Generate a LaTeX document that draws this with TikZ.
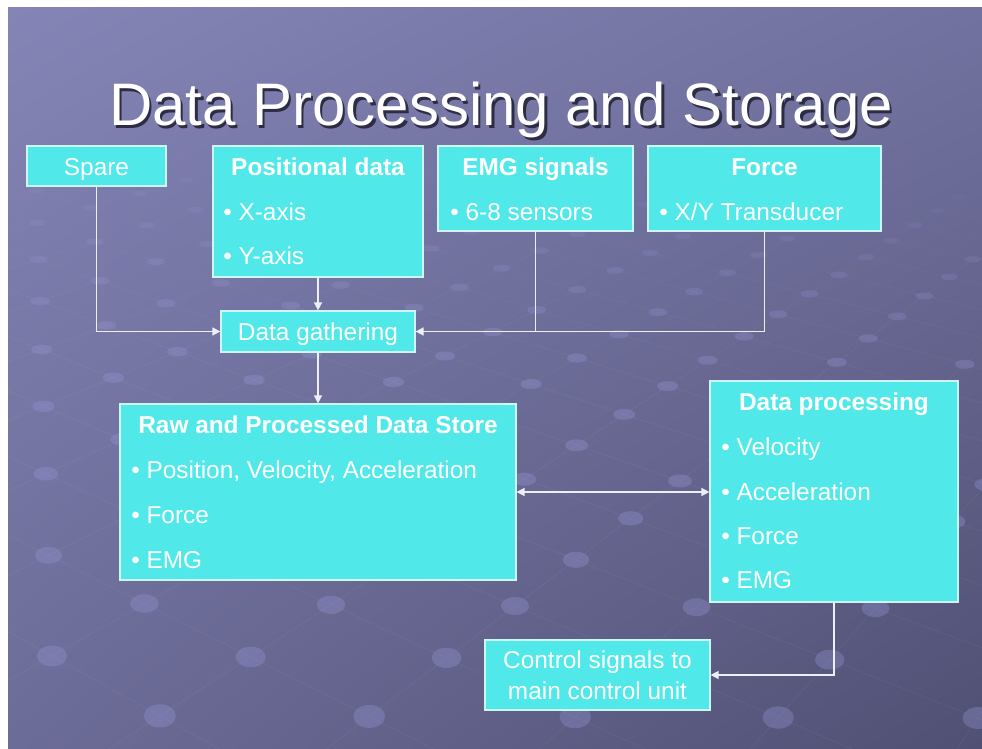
\documentclass[tikz,border=0pt]{standalone}
\usepackage{fontspec}
\setmainfont{Liberation Sans}
\usetikzlibrary{arrows.meta,shadings}

\definecolor{boxfill}{RGB}{80,232,232}
\definecolor{boxline}{RGB}{205,247,247}
\definecolor{wire}{RGB}{238,238,246}
\definecolor{bgUL}{RGB}{132,132,182}
\definecolor{bgUR}{RGB}{114,114,160}
\definecolor{bgLL}{RGB}{108,108,152}
\definecolor{bgLR}{RGB}{80,80,116}
\definecolor{stud}{RGB}{150,150,214}
\definecolor{titleshade}{RGB}{44,44,68}

\newcommand{\boxfont}{\fontsize{18.3}{22}\selectfont}
% title text with its drop shadow set underneath
\newcommand{\shadowtitle}[1]{%
  \makebox[0pt][l]{\hspace{1.9pt}\raisebox{-1.9pt}{\color{titleshade}#1}}#1}

\tikzset{
  box/.style={draw=boxline, line width=0.9pt, fill=boxfill, inner sep=0pt},
  head/.style={text=white, font=\boxfont\bfseries, anchor=base, inner sep=0pt},
  plain/.style={text=white, font=\boxfont, anchor=base, inner sep=0pt},
  item/.style={text=white, font=\boxfont, anchor=base west, inner sep=0pt},
  wireline/.style={draw=wire, line width=1.1pt},
  arr/.style={wireline, -{Triangle[length=6pt,width=6pt]}},
  biarr/.style={wireline, {Triangle[length=6pt,width=6pt]}-{Triangle[length=6pt,width=6pt]}},
  titlefont/.style={font=\fontsize{45}{50}\selectfont, anchor=base, inner sep=0pt},
}

\begin{document}
\begin{tikzpicture}[x=0.75pt,y=-0.75pt]
\useasboundingbox (0,0) rectangle (982,749);
\fill[white] (0,0) rectangle (982,749);
\shade[upper left=bgUL, upper right=bgUR, lower left=bgLL, lower right=bgLR]
  (8,8) rectangle (982,749);

% perspective lattice of studs on the floor of the slide
\begin{scope}
\clip (8,8) rectangle (982,749);
\foreach \lu in {-20,...,7}{
  \foreach \lv in {-20,...,7}{
    \pgfmathsetmacro\lw{1-0.043274*\lu-0.049125*\lv}
    \pgfmathsetmacro\lx{(680+78.517*\lu-80.30*\lv)/\lw}
    \pgfmathsetmacro\ly{(473+16.829*\lu+12.29*\lv)/\lw+8}
    \pgfmathsetmacro\lf{max(0,min(1,(1.75-\lw)/0.6))}
    \pgfmathtruncatemacro\lk{(\ly>-60)*(\ly<820)*(\lx>-300)*(\lx<1300)*(\lf>0.001)}
    \ifnum\lk=1
      \pgfmathsetmacro\lwa{\lw-0.043274}
      \pgfmathsetmacro\lxa{(680+78.517*(\lu+1)-80.30*\lv)/\lwa}
      \pgfmathsetmacro\lya{(473+16.829*(\lu+1)+12.29*\lv)/\lwa+8}
      \pgfmathsetmacro\lwb{\lw-0.049125}
      \pgfmathsetmacro\lxb{(680+78.517*\lu-80.30*(\lv+1))/\lwb}
      \pgfmathsetmacro\lyb{(473+16.829*\lu+12.29*(\lv+1))/\lwb+8}
      \pgfmathsetmacro\lop{0.05*\lf}
      \pgfmathsetmacro\lfo{0.34*\lf}
      \pgfmathsetmacro\lrx{9/\lw}
      \pgfmathsetmacro\lry{4.9/(\lw*\lw)}
      \draw[white, line width=0.5pt, draw opacity=\lop] (\lx,\ly) -- (\lxa,\lya);
      \draw[white, line width=0.5pt, draw opacity=\lop] (\lx,\ly) -- (\lxb,\lyb);
      \fill[stud, fill opacity=\lfo] (\lx,\ly) ellipse [x radius=\lrx pt, y radius=\lry pt];
    \fi
  }
}
\end{scope}

% title
\node[titlefont, text=white] (title) at (501,126) {\shadowtitle{Data Processing and Storage}};

% boxes
\node[box, minimum width=104.25pt, minimum height=30pt]    (spare) at (96.5,166) {};
\node[box, minimum width=157.5pt,  minimum height=98.25pt] (pos)   at (318,211.5) {};
\node[box, minimum width=146.25pt, minimum height=63.75pt] (emg)   at (535.5,188.5) {};
\node[box, minimum width=174.75pt, minimum height=63.75pt] (force) at (764.5,188.5) {};
\node[box, minimum width=145.5pt,  minimum height=30.75pt] (gath)  at (318,331.5) {};
\node[box, minimum width=297pt,    minimum height=132pt]   (store) at (318,492) {};
\node[box, minimum width=186pt,    minimum height=165.75pt] (proc) at (834,491.5) {};
\node[box, minimum width=168.75pt, minimum height=52.5pt]  (ctrl)  at (597.5,675) {};

% box texts
\node[plain] (spareT) at (96.5,175) {Spare};

\node[head] (posH) at (318,175) {Positional data};
\node[item] (posX) at (223,220) {• X-axis};
\node[item] (posY) at (223,264.5) {• Y-axis};

\node[head] (emgH) at (535.5,175) {EMG signals};
\node[item] (emgI) at (450,220) {• 6-8 sensors};

\node[head] (forH) at (764.5,175) {Force};
\node[item] (forI) at (659,220) {• X/Y Transducer};

\node[plain] (gathT) at (318,340) {Data gathering};

\node[head] (stoH) at (318,433) {Raw and Processed Data Store};
\node[item] (stoA) at (131,478) {• Position, Velocity, Acceleration};
\node[item] (stoB) at (131,523) {• Force};
\node[item] (stoC) at (131,568) {• EMG};

\node[head] (proH) at (834,410) {Data processing};
\node[item] (proA) at (721,455) {• Velocity};
\node[item] (proB) at (721,500) {• Acceleration};
\node[item] (proC) at (721,544) {• Force};
\node[item] (proD) at (721,588) {• EMG};

\node[plain] (ctlA) at (597.5,668) {Control signals to};
\node[plain] (ctlB) at (597.5,699) {main control unit};

% connectors
\draw[arr] (spare.south) |- (gath.west);
\draw[arr] (pos.south) -- (gath.north);
\draw[wireline] (emg.south) -- (emg.south |- gath.east);
\draw[arr] (force.south) |- (gath.east);
\draw[arr] (gath.south) -- (store.north);
\draw[biarr] (store.east) -- (store.east -| proc.west);
\draw[arr] (proc.south) |- (ctrl.east);
\end{tikzpicture}
\end{document}
